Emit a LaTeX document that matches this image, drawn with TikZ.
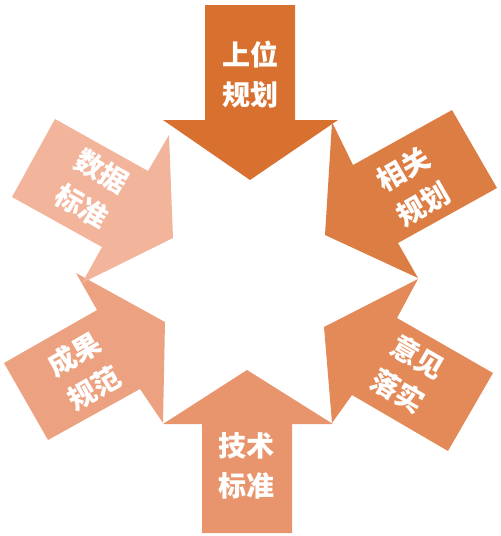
\documentclass[tikz,border=0pt]{standalone}
\usepackage{fontspec}
\newfontfamily\cjk{Noto Sans CJK SC}
\definecolor{cTop}{HTML}{D8712F}
\definecolor{cUR}{HTML}{DC7E43}
\definecolor{cLR}{HTML}{E38A58}
\definecolor{cBot}{HTML}{E8956D}
\definecolor{cLL}{HTML}{ECA181}
\definecolor{cUL}{HTML}{F2B49B}
\begin{document}
\begin{tikzpicture}[x=1pt,y=-1pt,
  lbl/.style={text=white, font=\cjk\bfseries\fontsize{28}{40}\selectfont, align=center, inner sep=0pt}]
\useasboundingbox (0,0) rectangle (501,536);
% arrows
\fill[cLL] (76,273) -- (97,310) -- (4,363) -- (48,440) -- (140,389) -- (163,423) -- (165,322) -- cycle;
\fill[cUL] (169,135) -- (148,171) -- (55,119) -- (12,197) -- (102,247) -- (82,283) -- (173,238) -- cycle;
\fill[cTop] (163,120) -- (205,120) -- (205,5) -- (295,5) -- (295,120) -- (338,120) -- (250,180) -- cycle;
\fill[cUR] (332,122) -- (353,165) -- (452,110) -- (497,188) -- (398,243) -- (418,278) -- (325,235) -- cycle;
\fill[cLR] (418,279) -- (397,318) -- (493,373) -- (448,451) -- (352,395) -- (332,423) -- (324,327) -- cycle;
\fill[cBot] (163,424) -- (202,424) -- (202,533) -- (292,533) -- (292,424) -- (333,424) -- (247,370) -- cycle;
% labels
\node[lbl] (tTop) at (250,75) {上位\\规划};
\node[lbl, rotate=30] (tUR) at (413,187) {相关\\规划};
\node[lbl, rotate=-30] (tLR) at (408,374) {意见\\落实};
\node[lbl] (tBot) at (246,466) {技术\\标准};
\node[lbl, rotate=30] (tLL) at (84,371) {成果\\规范};
\node[lbl, rotate=-30] (tUL) at (92,189) {数据\\标准};
\end{tikzpicture}
\end{document}
